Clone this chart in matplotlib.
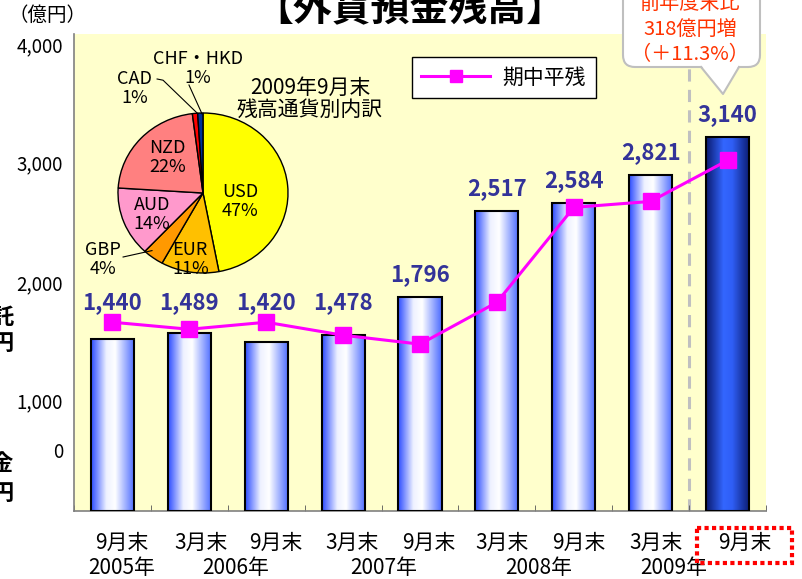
import numpy as np
import matplotlib
matplotlib.use('Agg')
import matplotlib.pyplot as plt
import matplotlib.transforms as mtransforms
from matplotlib.colors import LinearSegmentedColormap
from matplotlib.patches import Rectangle, FancyBboxPatch, Polygon
from matplotlib.lines import Line2D

plt.rcParams['font.family'] = ['Noto Sans CJK JP', 'DejaVu Sans']

# data
periods = ['9月末', '3月末', '9月末', '3月末', '9月末', '3月末', '9月末', '3月末', '9月末']
years = ['2005年', '2006年', '2007年', '2008年', '2009年']
balance = [1440, 1489, 1420, 1478, 1796, 2517, 2584, 2821, 3140]
average = [1583, 1524, 1583, 1474, 1399, 1750, 2546, 2596, 2940]
ytick_labels = ['4,000', '3,000', '2,000', '1,000', '0']
currencies = ['USD', 'EUR', 'GBP', 'AUD', 'NZD', 'CAD', 'CHF・HKD']
shares = [47, 11, 4, 14, 22, 1, 1]

# layout (where things sit in the original picture)
ytick_pos = [3916, 2927, 1920, 931, 512]
period_pos = [0.12, 1.15, 2.12, 3.12, 4.12, 5.07, 6.07, 7.07, 8.22]
year_pos = [0.12, 1.6, 3.53, 5.54, 7.3]

W, H = 802, 579
fig = plt.figure(figsize=(W / 100, H / 100), dpi=100)
px = mtransforms.Affine2D().scale(0.01).scale(1, -1).translate(0, H / 100) + fig.dpi_scale_trans

ax = fig.add_axes([74 / W, 1 - 511 / H, (766 - 74) / W, (511 - 34) / H])
ax.set_facecolor('#FFFFCC')

light = LinearSegmentedColormap.from_list('light', [(0, '#2B4BFF'), (0.35, '#EEF1FF'),
                                                    (0.55, '#FFFFFF'), (1, '#4A6AFF')])
dark = LinearSegmentedColormap.from_list('dark', [(0, '#0A1A6E'), (0.4, '#3366FF'),
                                                  (0.6, '#2F5EF5'), (1, '#0A1A6E')])
grad = np.linspace(0, 1, 256).reshape(1, -1)
bw = 0.56
for i, v in enumerate(balance):
    cm = dark if i == len(balance) - 1 else light
    ax.imshow(grad, extent=(i - bw / 2, i + bw / 2, 0, v), cmap=cm, aspect='auto', zorder=2)
    ax.add_patch(Rectangle((i - bw / 2, 0), bw, v, fill=False, ec='black', lw=1.5, zorder=3))
    ax.annotate(f'{v:,}', xy=(i, max(v, 1560)), xytext=(0, 16), textcoords='offset points',
                ha='center', va='center', fontsize=16, fontweight='bold', color='#333399', zorder=5)

ax.plot(range(len(average)), average, color='#FF00FF', lw=2.2, marker='s', ms=11,
        zorder=4, label='期中平残')
ax.axvline(7.5, color='#C0C0C0', lw=2.2, ls=(0, (4, 2.7)), zorder=1.5)

ax.set_xlim(-0.5, 8.5)
ax.set_ylim(0, 4000)
ax.set_yticks(ytick_pos, ytick_labels)
ax.tick_params(axis='y', length=0, pad=8, labelsize=13.5)
ax.set_xticks([])
ax.set_xticks(np.arange(-0.5, 9, 1), minor=True)
ax.tick_params(axis='x', which='minor', direction='in', length=4, color='#555555')
for s in ['top', 'right']:
    ax.spines[s].set_visible(False)
for s in ['left', 'bottom']:
    ax.spines[s].set_color('#808080')
    ax.spines[s].set_linewidth(1.2)

leg = ax.legend(loc='upper left', bbox_to_anchor=(412 / W, 1 - 57 / H), bbox_transform=fig.transFigure,
                fancybox=False, edgecolor='black', framealpha=1, borderaxespad=0,
                handlelength=3.3, handletextpad=0.6, fontsize=15, borderpad=0.45, markerscale=0.8)
leg.get_frame().set_linewidth(1)

bt = mtransforms.blended_transform_factory(ax.transData, fig.transFigure)
for p, lab in zip(period_pos, periods):
    ax.text(p, 1 - 543 / H, lab, transform=bt, ha='center', va='center', fontsize=15)
for p, lab in zip(year_pos, years):
    ax.text(p, 1 - 568 / H, lab, transform=bt, ha='center', va='center', fontsize=15)
fig.add_artist(Rectangle((697, 528), 95, 35, transform=px, fill=False, ec='#FF0000',
                         lw=3, ls=(0, (1, 0.8))))

# pie inset
pax = fig.add_axes([118 / W, 1 - 273 / H, 170 / W, 160 / H])
pie_colors = ['#FFFF00', '#FFC000', '#FF9900', '#FF99CC', '#FF8080', '#FF0000', '#003399']
pax.pie(shares, colors=pie_colors, startangle=90, counterclock=False, radius=1,
        wedgeprops=dict(edgecolor='black', linewidth=1))
pax.set_aspect('auto')
pax.set_xlim(-1, 1)
pax.set_ylim(-1, 1)
pie_text = [(0.44, -0.11), (-0.15, -0.83), (-1.18, -0.83), (-0.6, -0.27),
            (-0.42, 0.44), (-0.8, 1.31), (-0.06, 1.56)]
for (x, y), c, s in zip(pie_text, currencies, shares):
    pax.text(x, y, f'{c}\n{s}%', ha='center', va='center', fontsize=13, linespacing=1.05,
             clip_on=False)
pax.plot([-0.94, -0.6], [-0.8, -0.72], color='black', lw=0.8, clip_on=False)
pax.plot([-0.54, -0.47, -0.06], [1.425, 1.41, 0.99], color='black', lw=0.8, clip_on=False)
pax.plot([-0.165, -0.012], [1.35, 0.99], color='black', lw=0.8, clip_on=False)
fig.text(310 / W, 1 - 99 / H, '2009年9月末\n残高通貨別内訳', ha='center', va='center',
         fontsize=15, linespacing=1.0)

# callout
fig.add_artist(FancyBboxPatch((623, -30), 137, 97, boxstyle='round,pad=0,rounding_size=12',
                              transform=px, fc='white', ec='#BFBFBF', lw=1.5))
fig.add_artist(Polygon([(701, 65), (723, 94), (739, 65)], closed=True, transform=px,
                       fc='white', ec='none'))
fig.add_artist(Line2D([701, 723, 739], [67, 94, 67], transform=px, color='#BFBFBF', lw=1.5))
for yy, t in zip([3, 30, 55], ['前年度末比', '318億円増', '（＋11.3%）']):
    fig.text(690 / W, 1 - yy / H, t, ha='center', va='center', fontsize=14.5, color='#FF3300')

fig.text(410 / W, 1 - 10 / H, '【外貨預金残高】', ha='center', va='center',
         fontsize=28, fontweight='bold')
fig.text(8 / W, 1 - 15 / H, '（億円）', ha='left', va='center', fontsize=14)
for yy, t in zip([318, 343, 463, 493], ['託', '円', '金', '円']):
    fig.text(2 / W, 1 - yy / H, t, ha='center', va='center', fontsize=16, fontweight='bold')

fig.savefig('out.png', dpi=100)
